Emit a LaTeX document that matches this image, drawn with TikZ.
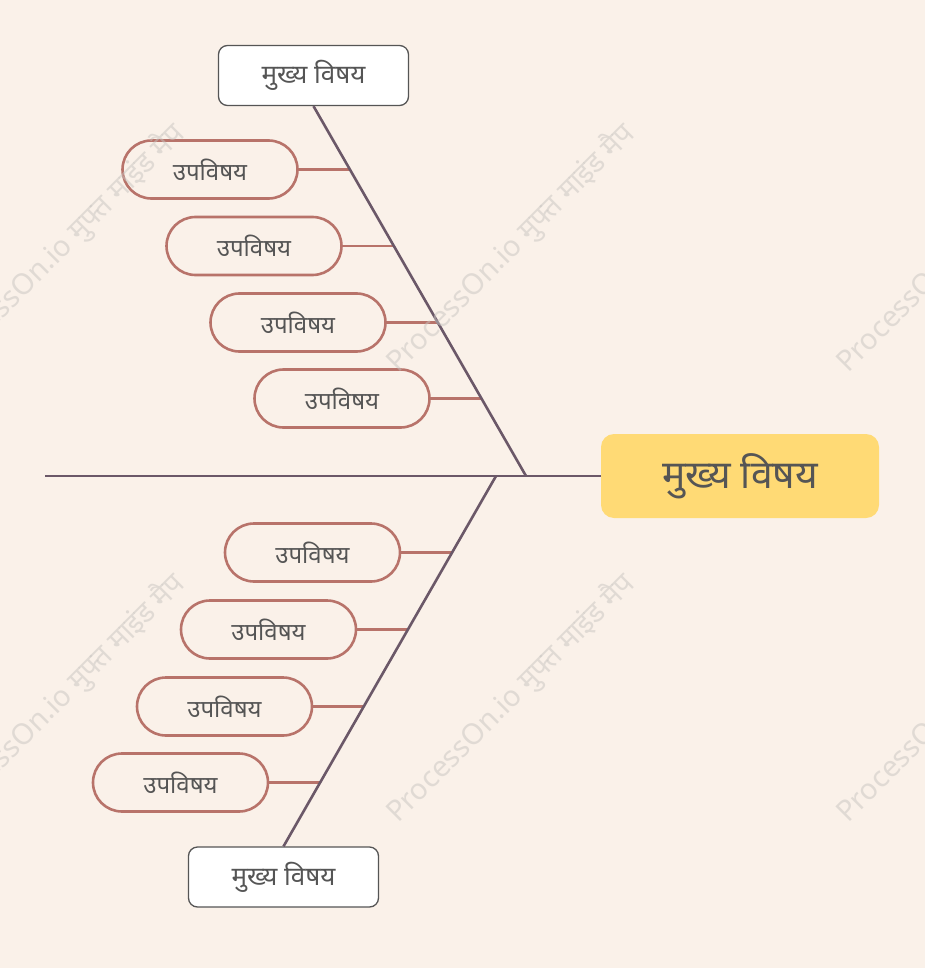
\documentclass[tikz,border=0pt]{standalone}
\usepackage{fontspec}
\setmainfont{Noto Sans}
\newfontfamily\deva[Script=Devanagari]{Noto Sans}
\usetikzlibrary{calc}
\definecolor{bgc}{RGB}{250,241,233}
\definecolor{spinec}{RGB}{107,88,104}
\definecolor{subc}{RGB}{184,115,106}
\definecolor{centc}{RGB}{255,218,117}
\definecolor{txtc}{RGB}{85,85,85}
\definecolor{wmc}{RGB}{200,196,192}
\newcommand{\wmtext}{ProcessOn.io\hspace{7pt}मुफ्त\hspace{7pt}माइंड\hspace{7pt}मैप}
\tikzset{
  spine/.style={draw=spinec, line width=2.6pt},
  subline/.style={draw=subc, line width=2.8pt},
  subbox/.style={draw=subc, line width=2.6pt, fill=bgc, rounded corners=29pt,
    minimum width=175pt, minimum height=58pt, inner sep=0pt, text=txtc,
    font=\deva\fontsize{24}{28}\selectfont},
  mainbox/.style={draw=txtc, line width=1.3pt, fill=white, rounded corners=9pt,
    minimum width=190pt, minimum height=60pt, inner sep=0pt, text=txtc,
    font=\deva\fontsize{26}{30}\selectfont},
  centbox/.style={fill=centc, rounded corners=13pt,
    minimum width=278pt, minimum height=84pt, inner sep=0pt, text=txtc,
    font=\deva\fontsize{39}{44}\selectfont},
  wm/.style={text=wmc, opacity=0.5, rotate=45, font=\deva\fontsize{29}{32}\selectfont, inner sep=0pt}
}
\begin{document}
\begin{tikzpicture}[x=1pt,y=-1pt]
\fill[bgc] (0,0) rectangle (925,968);
\useasboundingbox (0,0) rectangle (925,968);
% nodes
\node[centbox] (c) at (740,476) {मुख्य विषय};
\node[mainbox] (m1) at (313.5,75.5) {मुख्य विषय};
\node[mainbox] (m2) at (283.5,877) {मुख्य विषय};
\coordinate (left) at (45,476);
\coordinate (jt) at (526,476);
\coordinate (jb) at (496,476);
\coordinate (t1) at (350.4,169.5);
\coordinate (t2) at (394.2,246);
\coordinate (t3) at (438.0,322.5);
\coordinate (t4) at (481.6,398.5);
\coordinate (b1) at (452.2,552.5);
\coordinate (b2) at (408.1,629.5);
\coordinate (b3) at (364.0,706.5);
\coordinate (b4) at (320.4,782.5);
% connectors
\draw[subline] (t1) -- (210,169.5);
\draw[subline] (t2) -- (254,246);
\draw[subline] (t3) -- (298,322.5);
\draw[subline] (t4) -- (342,398.5);
\draw[subline] (b1) -- (312.5,552.5);
\draw[subline] (b2) -- (268.5,629.5);
\draw[subline] (b3) -- (224.5,706.5);
\draw[subline] (b4) -- (180.5,782.5);
\draw[spine] (left) -- (c.west);
\draw[spine] (jt) -- (m1.south);
\draw[spine] (jb) -- (m2.north);
\node[subbox] (s1) at (210,169.5) {उपविषय};
\node[subbox] (s2) at (254,246) {उपविषय};
\node[subbox] (s3) at (298,322.5) {उपविषय};
\node[subbox] (s4) at (342,398.5) {उपविषय};
\node[subbox] (s5) at (312.5,552.5) {उपविषय};
\node[subbox] (s6) at (268.5,629.5) {उपविषय};
\node[subbox] (s7) at (224.5,706.5) {उपविषय};
\node[subbox] (s8) at (180.5,782.5) {उपविषय};
% watermarks
\node[wm] (w1) at (61,248) {\wmtext};
\node[wm] (w2) at (511,248) {\wmtext};
\node[wm] (w3) at (961,248) {\wmtext};
\node[wm] (w4) at (61,698) {\wmtext};
\node[wm] (w5) at (511,698) {\wmtext};
\node[wm] (w6) at (961,698) {\wmtext};
\end{tikzpicture}
\end{document}
